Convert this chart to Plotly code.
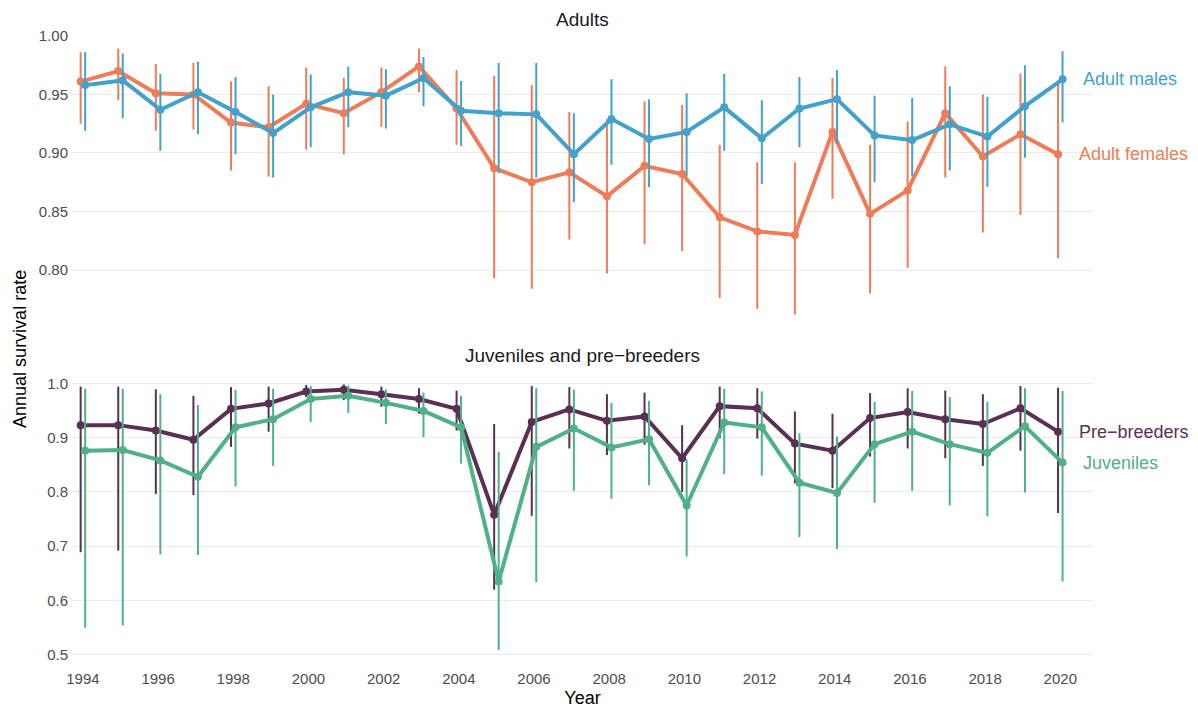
import plotly.graph_objects as go

years = list(range(1994, 2021))

# Adults
female = [0.961, 0.970, 0.951, 0.950, 0.926, 0.922, 0.942, 0.934, 0.952, 0.974, 0.938, 0.887, 0.875, 0.8835, 0.863, 0.889, 0.882, 0.845, 0.833, 0.830, 0.918, 0.848, 0.868, 0.934, 0.897, 0.916, 0.899]
female_hi = [0.986, 0.989, 0.976, 0.977, 0.961, 0.957, 0.973, 0.964, 0.973, 0.989, 0.971, 0.966, 0.958, 0.935, 0.929, 0.944, 0.941, 0.907, 0.892, 0.892, 0.964, 0.907, 0.927, 0.974, 0.950, 0.968, 0.962]
female_lo = [0.925, 0.945, 0.919, 0.920, 0.885, 0.880, 0.903, 0.899, 0.9225, 0.952, 0.907, 0.793, 0.784, 0.826, 0.797, 0.822, 0.816, 0.776, 0.767, 0.762, 0.861, 0.780, 0.802, 0.879, 0.832, 0.847, 0.810]

male = [0.958, 0.962, 0.937, 0.952, 0.935, 0.917, 0.939, 0.952, 0.949, 0.964, 0.936, 0.934, 0.933, 0.899, 0.929, 0.912, 0.918, 0.939, 0.9125, 0.938, 0.946, 0.915, 0.911, 0.9245, 0.914, 0.940, 0.963]
male_hi = [0.986, 0.985, 0.9675, 0.978, 0.965, 0.950, 0.967, 0.974, 0.9715, 0.982, 0.9615, 0.977, 0.977, 0.934, 0.963, 0.946, 0.951, 0.9675, 0.945, 0.965, 0.971, 0.949, 0.947, 0.957, 0.948, 0.975, 0.987]
male_lo = [0.919, 0.930, 0.902, 0.916, 0.899, 0.879, 0.905, 0.922, 0.921, 0.940, 0.906, 0.883, 0.879, 0.858, 0.890, 0.871, 0.880, 0.902, 0.8735, 0.905, 0.908, 0.875, 0.880, 0.885, 0.871, 0.896, 0.926]

# Juveniles and pre-breeders
pre = [0.923, 0.923, 0.913, 0.896, 0.953, 0.963, 0.985, 0.988, 0.980, 0.971, 0.953, 0.758, 0.929, 0.952, 0.931, 0.939, 0.862, 0.958, 0.954, 0.889, 0.876, 0.936, 0.947, 0.934, 0.925, 0.954, 0.911]
pre_hi = [0.994, 0.994, 0.989, 0.977, 0.993, 0.994, 0.997, 0.998, 0.994, 0.991, 0.9865, 0.925, 0.995, 0.993, 0.980, 0.983, 0.923, 0.994, 0.991, 0.948, 0.944, 0.982, 0.991, 0.9865, 0.980, 0.995, 0.992]
pre_lo = [0.689, 0.692, 0.796, 0.794, 0.883, 0.911, 0.975, 0.969, 0.957, 0.944, 0.913, 0.620, 0.756, 0.880, 0.868, 0.887, 0.800, 0.899, 0.898, 0.816, 0.807, 0.865, 0.880, 0.862, 0.848, 0.876, 0.761]

juv = [0.876, 0.877, 0.858, 0.828, 0.919, 0.934, 0.971, 0.977, 0.964, 0.949, 0.919, 0.635, 0.883, 0.917, 0.882, 0.897, 0.775, 0.928, 0.919, 0.817, 0.798, 0.888, 0.911, 0.888, 0.872, 0.921, 0.854]
juv_hi = [0.990, 0.990, 0.980, 0.960, 0.988, 0.990, 0.995, 0.996, 0.989, 0.983, 0.977, 0.874, 0.991, 0.988, 0.964, 0.968, 0.860, 0.990, 0.985, 0.908, 0.902, 0.966, 0.986, 0.975, 0.966, 0.991, 0.986]
juv_lo = [0.550, 0.554, 0.685, 0.684, 0.810, 0.848, 0.929, 0.945, 0.925, 0.901, 0.852, 0.509, 0.634, 0.802, 0.787, 0.812, 0.681, 0.833, 0.830, 0.717, 0.695, 0.780, 0.802, 0.775, 0.755, 0.799, 0.635]

top_ticks = [0.80, 0.85, 0.90, 0.95, 1.00]
bottom_ticks = [0.5, 0.6, 0.7, 0.8, 0.9, 1.0]
x_ticks = list(range(1994, 2021, 2))

C_FEM = "#EE7C58"
C_MALE = "#43A1CB"
C_PRE = "#5A2F54"
C_JUV = "#50B088"
DODGE = 0.06
FONT = "Liberation Sans, Arial, Helvetica, sans-serif"

fig = go.Figure()


def add_series(vals, hi, lo, color, offset, xa, ya):
    xs = [y + offset for y in years]
    fig.add_trace(go.Scatter(
        x=xs, y=vals, mode="lines+markers",
        line=dict(color=color, width=4),
        marker=dict(color=color, size=8),
        error_y=dict(type="data", symmetric=False,
                     array=[h - v for h, v in zip(hi, vals)],
                     arrayminus=[v - l for v, l in zip(vals, lo)],
                     color=color, thickness=2, width=0),
        xaxis=xa, yaxis=ya, showlegend=False, hoverinfo="x+y"))


add_series(female, female_hi, female_lo, C_FEM, -DODGE, "x", "y")
add_series(male, male_hi, male_lo, C_MALE, DODGE, "x", "y")
add_series(pre, pre_hi, pre_lo, C_PRE, -DODGE, "x2", "y2")
add_series(juv, juv_hi, juv_lo, C_JUV, DODGE, "x2", "y2")

labels = [
    ("Adult males", male[-1], C_MALE, DODGE, "x", "y"),
    ("Adult females", female[-1], C_FEM, -DODGE, "x", "y"),
    ("Pre−breeders", pre[-1], C_PRE, -DODGE, "x2", "y2"),
    ("Juveniles", juv[-1], C_JUV, DODGE, "x2", "y2"),
]
for text, yv, col, off, xr, yr in labels:
    fig.add_annotation(x=years[-1] + off + 0.5, y=yv, xref=xr, yref=yr,
                       text=text, showarrow=False, xanchor="left", yanchor="middle",
                       font=dict(size=18, color=col, family=FONT))

fig.add_annotation(x=0.5, y=1.0239, xref="paper", yref="paper", text="Adults",
                   showarrow=False, xanchor="center", yanchor="middle",
                   font=dict(size=19, color="#1a1a1a", family=FONT))
fig.add_annotation(x=0.5, y=0.4904, xref="paper", yref="paper", text="Juveniles and pre−breeders",
                   showarrow=False, xanchor="center", yanchor="middle",
                   font=dict(size=19, color="#1a1a1a", family=FONT))
fig.add_annotation(x=-0.051, y=0.5, xref="paper", yref="paper", text="Annual survival rate",
                   showarrow=False, xanchor="center", yanchor="middle", textangle=-90,
                   font=dict(size=18, color="#000000", family=FONT))

xr = [1993.71, 2020.87]
common_x = dict(range=xr, showgrid=False, zeroline=False, showline=False, ticks="")
fig.update_layout(
    width=1190, height=700,
    margin=dict(l=64, r=105, t=27, b=45, autoexpand=False),
    plot_bgcolor="white", paper_bgcolor="white",
    font=dict(family=FONT),
    xaxis=dict(**common_x, domain=[0, 1], anchor="y", showticklabels=False),
    yaxis=dict(domain=[0.5326, 0.9992], range=[0.75, 1.0004], tickvals=top_ticks,
               ticktext=[f"{v:.2f}" for v in top_ticks], showgrid=True, gridcolor="#EBEBEB",
               gridwidth=1.2, zeroline=False, showline=False, ticks="", ticklabelstandoff=3,
               tickfont=dict(size=15, color="#4D4D4D"), anchor="x"),
    xaxis2=dict(**common_x, domain=[0, 1], anchor="y2", tickvals=x_ticks,
                ticktext=[str(v) for v in x_ticks], tickfont=dict(size=15, color="#4D4D4D"),
                ticklabelstandoff=5,
                title=dict(text="Year", font=dict(size=18, color="#000000"), standoff=5)),
    yaxis2=dict(domain=[0, 0.4635], range=[0.485, 1.021], tickvals=bottom_ticks,
                ticktext=[f"{v:.1f}" for v in bottom_ticks], showgrid=True, gridcolor="#EBEBEB",
                gridwidth=1.2, zeroline=False, showline=False, ticks="", ticklabelstandoff=3,
                tickfont=dict(size=15, color="#4D4D4D"), anchor="x2"),
)

fig.write_html("out.html")
